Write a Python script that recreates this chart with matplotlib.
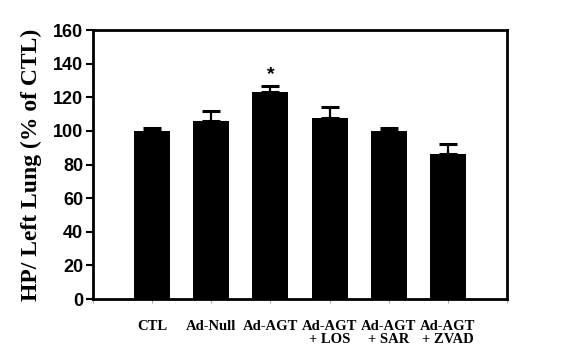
import matplotlib.pyplot as plt
import numpy as np

groups = ["CTL", "Ad-Null", "Ad-AGT", "Ad-AGT\n+ LOS", "Ad-AGT\n+ SAR", "Ad-AGT\n+ ZVAD"]
means = [100, 106, 123, 107.5, 100, 86.5]
errors = [2, 6, 4, 6.5, 1.8, 5.5]
significant = [False, False, True, False, False, False]

fig = plt.figure(figsize=(5.68, 3.59), dpi=100)
ax = fig.add_axes([0.1637, 0.167, 0.729, 0.7494])

x = np.arange(1, len(groups) + 1)
ax.bar(x, means, width=0.61, color="black", zorder=2)
ax.errorbar(x, means, yerr=[np.zeros(len(errors)), errors], fmt="none",
            ecolor="black", elinewidth=1.6, capsize=6.5, capthick=2.2, zorder=3)

for xi, m, e, sig in zip(x, means, errors, significant):
    if sig:
        ax.text(xi, m + e + 1.5, "*", ha="center", va="bottom",
                fontsize=14, fontweight="bold", family="Liberation Sans")

ax.set_xlim(0, len(groups) + 1)
ax.set_ylim(0, 160)
ax.set_yticks(np.arange(0, 161, 20))
ax.set_xticks(np.arange(0, len(groups) + 2))
ax.set_xticklabels([])
ax.tick_params(axis="x", direction="out", length=3, width=0.8, color="#aaaaaa")
ax.tick_params(axis="y", direction="out", length=5, width=1.5, pad=2)
for lbl in ax.get_yticklabels():
    lbl.set_fontfamily("Liberation Sans")
    lbl.set_fontweight("bold")
    lbl.set_fontsize(13)

for sp in ax.spines.values():
    sp.set_linewidth(2)

for xi, g in zip(x, groups):
    ax.text(xi, -12.5, g, ha="center", va="top", fontsize=10.5, fontweight="bold",
            family="Liberation Serif", linespacing=1.0)

ax.set_ylabel("HP/ Left Lung (% of CTL)", fontsize=17, fontweight="bold",
              family="Liberation Serif", labelpad=8)

fig.savefig("out.png", dpi=100)
